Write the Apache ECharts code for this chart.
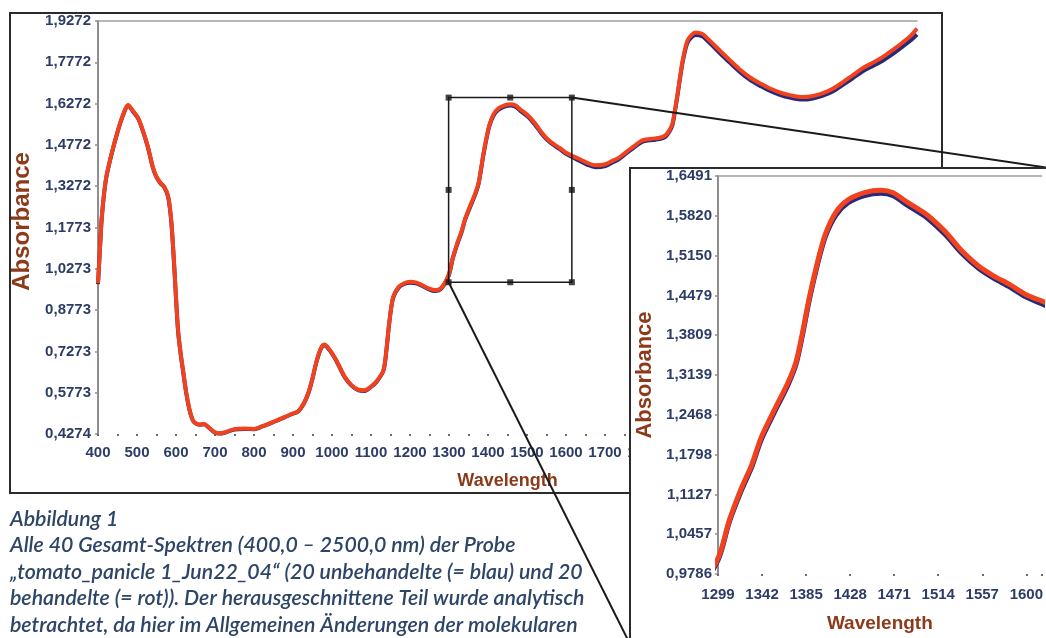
<!DOCTYPE html>
<html>
<head>
<meta charset="utf-8">
<script src="https://cdn.jsdelivr.net/npm/echarts@6/dist/echarts.min.js"></script>
<style>
  html, body { margin: 0; padding: 0; background: #ffffff; }
  #chart { width: 1046px; height: 638px; }
</style>
</head>
<body>
<div id="chart"></div>
<script>
// Wavelength grid (nm) of the mean spectra
const wavelength = [
  400, 405, 410, 420, 433, 451, 465, 477, 490, 503, 515, 528, 540, 549, 560, 570, 580, 588, 595, 605,
  612, 618, 626, 634, 641, 647, 660, 672, 685, 698, 710, 725, 750, 775, 801, 820, 837, 860, 878, 900,
  914, 928, 940, 950, 960, 972, 981, 993, 1007, 1020, 1032, 1050, 1068, 1084, 1100, 1115, 1132, 1140, 1145, 1152,
  1158, 1171, 1185, 1200, 1215, 1230, 1250, 1264, 1280, 1299, 1310, 1322, 1332, 1341, 1354, 1367, 1375, 1381, 1388, 1397,
  1404, 1414, 1426, 1442, 1458, 1470, 1483, 1502, 1521, 1537, 1553, 1568, 1584, 1600, 1616, 1634, 1655, 1675, 1701, 1720,
  1737, 1755, 1770, 1796, 1815, 1829, 1845, 1855, 1865, 1873, 1880, 1886, 1893, 1899, 1906, 1912, 1922, 1932, 1950, 1962,
  1976, 2000, 2020, 2045, 2071, 2100, 2122, 2150, 2174, 2207, 2230, 2259, 2285, 2310, 2335, 2361, 2387, 2413, 2440, 2464,
  2485, 2500
];

// Treated samples (red)
const treatedRed = [
  0.975, 1.100, 1.220, 1.350, 1.435, 1.530, 1.590, 1.622, 1.600, 1.575, 1.530, 1.470, 1.400, 1.365, 1.340, 1.325, 1.290, 1.200, 1.050, 0.810,
  0.720, 0.660, 0.580, 0.520, 0.485, 0.470, 0.462, 0.464, 0.450, 0.435, 0.430, 0.433, 0.445, 0.447, 0.446, 0.455, 0.464, 0.478, 0.489, 0.502,
  0.511, 0.540, 0.580, 0.630, 0.690, 0.740, 0.752, 0.735, 0.705, 0.670, 0.637, 0.605, 0.588, 0.586, 0.600, 0.620, 0.660, 0.740, 0.810, 0.890,
  0.930, 0.962, 0.975, 0.980, 0.978, 0.969, 0.955, 0.950, 0.958, 1.005, 1.069, 1.124, 1.163, 1.208, 1.255, 1.300, 1.335, 1.381, 1.443, 1.510,
  1.552, 1.588, 1.609, 1.621, 1.625, 1.621, 1.606, 1.585, 1.555, 1.523, 1.498, 1.481, 1.466, 1.449, 1.438, 1.426, 1.412, 1.403, 1.407, 1.420,
  1.432, 1.452, 1.468, 1.494, 1.499, 1.501, 1.505, 1.512, 1.530, 1.555, 1.610, 1.663, 1.730, 1.783, 1.830, 1.858, 1.877, 1.885, 1.880, 1.865,
  1.846, 1.812, 1.785, 1.752, 1.723, 1.699, 1.683, 1.667, 1.658, 1.651, 1.654, 1.665, 1.682, 1.705, 1.730, 1.756, 1.776, 1.797, 1.824, 1.850,
  1.875, 1.900
];

// Untreated samples (blue)
const untreatedBlue = [
  0.972, 1.098, 1.218, 1.348, 1.433, 1.528, 1.588, 1.620, 1.598, 1.573, 1.528, 1.468, 1.398, 1.363, 1.338, 1.323, 1.287, 1.196, 1.046, 0.806,
  0.717, 0.657, 0.578, 0.518, 0.484, 0.469, 0.461, 0.463, 0.449, 0.434, 0.429, 0.432, 0.444, 0.446, 0.445, 0.454, 0.463, 0.477, 0.488, 0.501,
  0.510, 0.538, 0.578, 0.628, 0.688, 0.738, 0.750, 0.733, 0.703, 0.668, 0.635, 0.603, 0.586, 0.584, 0.598, 0.618, 0.658, 0.737, 0.807, 0.887,
  0.927, 0.959, 0.972, 0.977, 0.975, 0.966, 0.952, 0.947, 0.955, 1.002, 1.066, 1.120, 1.159, 1.204, 1.251, 1.296, 1.331, 1.377, 1.439, 1.506,
  1.548, 1.583, 1.604, 1.616, 1.620, 1.616, 1.601, 1.580, 1.550, 1.519, 1.494, 1.477, 1.462, 1.445, 1.433, 1.420, 1.405, 1.396, 1.400, 1.414,
  1.427, 1.447, 1.463, 1.489, 1.494, 1.496, 1.500, 1.507, 1.525, 1.550, 1.605, 1.658, 1.724, 1.777, 1.823, 1.850, 1.868, 1.876, 1.871, 1.856,
  1.837, 1.803, 1.776, 1.743, 1.714, 1.690, 1.674, 1.658, 1.649, 1.642, 1.645, 1.656, 1.672, 1.695, 1.719, 1.745, 1.764, 1.784, 1.810, 1.835,
  1.858, 1.878
];

// Main panel axis
const mainXRange = [400, 2500];
const mainYRange = [0.4274, 1.9272];
const mainYTicks = ['0,4274', '0,5773', '0,7273', '0,8773', '1,0273', '1,1773', '1,3272', '1,4772', '1,6272', '1,7772', '1,9272'];

// Enlarged section (also the selection frame in the main panel)
const zoomXRange = [1299, 1615];
const zoomYRange = [0.9786, 1.6491];
const zoomXTicks = ['1299', '1342', '1385', '1428', '1471', '1514', '1557', '1600'];
const zoomYTicks = ['0,9786', '1,0457', '1,1127', '1,1798', '1,2468', '1,3139', '1,3809', '1,4479', '1,5150', '1,5820', '1,6491'];

// Figure caption
const captionLines = [
  'Abbildung 1',
  'Alle 40 Gesamt-Spektren (400,0 \u2013 2500,0 nm) der Probe',
  '\u201Etomato_panicle 1_Jun22_04\u201C (20 unbehandelte (= blau) und 20',
  'behandelte (= rot)). Der herausgeschnittene Teil wurde analytisch',
  'betrachtet, da hier im Allgemeinen \u00C4nderungen der molekularen'
];

const RED = '#f2421d';
const BLUE = '#262a7c';
const TICK_COLOR = '#2c3c66';
const TITLE_COLOR = '#8c3a1a';
const TICK_FONT = 'Liberation Sans';

const redPts = wavelength.map((w, i) => [w, treatedRed[i]]);
const bluePts = wavelength.map((w, i) => [w, untreatedBlue[i]]);

const zx0 = zoomXRange[0], zx1 = zoomXRange[1], zy0 = zoomYRange[0], zy1 = zoomYRange[1];
const selectionFrame = [[zx0, zy0], [zx1, zy0], [zx1, zy1], [zx0, zy1], [zx0, zy0]];
const zxm = (zx0 + zx1) / 2, zym = (zy0 + zy1) / 2;
const selectionHandles = [
  [zx0, zy0], [zxm, zy0], [zx1, zy0],
  [zx0, zym], [zx1, zym],
  [zx0, zy1], [zxm, zy1], [zx1, zy1]
];

const chart = echarts.init(document.getElementById('chart'), null, { renderer: 'canvas' });

const tickLabel = (extra) => Object.assign({
  color: TICK_COLOR, fontFamily: TICK_FONT, fontWeight: 'bold', fontSize: 15
}, extra || {});

// Inset panel frame (pixel box)
const inset = { x: 630, y: 168, w: 420, h: 476 };

const option = {
  backgroundColor: '#ffffff',
  animation: false,
  grid: [
    { left: 98, top: 21, width: 819, height: 413, containLabel: false },
    { left: 718, top: 176, width: 336, height: 401, containLabel: false }
  ],
  xAxis: [
    {
      type: 'value', gridIndex: 0, min: mainXRange[0], max: mainXRange[1], interval: 100,
      axisLine: { show: false },
      axisTick: { show: true, length: 2, lineStyle: { color: '#6b6b6b', width: 2 } },
      minorTick: { show: true, splitNumber: 2, length: 2, lineStyle: { color: '#6b6b6b', width: 2 } },
      splitLine: { show: false },
      axisLabel: tickLabel({ margin: 11, formatter: (v) => String(v) }),
      name: 'Wavelength', nameLocation: 'middle', nameGap: 38,
      nameTextStyle: { color: TITLE_COLOR, fontFamily: 'Liberation Sans', fontWeight: 'bold', fontSize: 18 }
    },
    {
      type: 'value', gridIndex: 1, min: zoomXRange[0], max: zoomXRange[1], interval: 43, z: 60,
      axisLine: { show: false },
      axisTick: { show: true, length: 2, lineStyle: { color: '#6b6b6b', width: 2 } },
      splitLine: { show: false },
      axisLabel: tickLabel({ margin: 13, formatter: (v, i) => zoomXTicks[i] || '' }),
      name: 'Wavelength', nameLocation: 'middle', nameGap: 40,
      nameTextStyle: { color: TITLE_COLOR, fontFamily: 'Liberation Sans', fontWeight: 'bold', fontSize: 19 }
    },
    {
      type: 'value', gridIndex: 0, position: 'top', min: mainXRange[0], max: mainXRange[1],
      axisLine: { show: true, lineStyle: { color: '#a0a0a0', width: 1.5 } },
      axisTick: { show: false }, axisLabel: { show: false }, splitLine: { show: false }
    },
    {
      type: 'value', gridIndex: 1, position: 'top', min: zoomXRange[0], max: zoomXRange[1], z: 60,
      axisLine: { show: true, lineStyle: { color: '#a0a0a0', width: 1.5 } },
      axisTick: { show: false }, axisLabel: { show: false }, splitLine: { show: false }
    }
  ],
  yAxis: [
    {
      type: 'value', gridIndex: 0, min: mainYRange[0], max: mainYRange[1],
      interval: (mainYRange[1] - mainYRange[0]) / 10,
      axisLine: { show: true, lineStyle: { color: '#8e8e8e', width: 2 } },
      axisTick: { show: true, length: 3, lineStyle: { color: '#8e8e8e', width: 1.5 } },
      splitLine: { show: false },
      axisLabel: tickLabel({ margin: 7, formatter: (v, i) => mainYTicks[i] || '' }),
      name: 'Absorbance', nameLocation: 'middle', nameGap: 58, nameRotate: 90,
      nameTextStyle: { color: TITLE_COLOR, fontFamily: 'Liberation Sans', fontWeight: 'bold', fontSize: 24, padding: [0, 0, 0, 12] }
    },
    {
      type: 'value', gridIndex: 1, min: zoomYRange[0], max: zoomYRange[1], z: 60,
      interval: (zoomYRange[1] - zoomYRange[0]) / 10,
      axisLine: { show: true, lineStyle: { color: '#8e8e8e', width: 2 } },
      axisTick: { show: true, length: 3, lineStyle: { color: '#8e8e8e', width: 1.5 } },
      splitLine: { show: false },
      axisLabel: tickLabel({ margin: 6, formatter: (v, i) => zoomYTicks[i] || '' }),
      name: 'Absorbance', nameLocation: 'middle', nameGap: 62, nameRotate: 90,
      nameTextStyle: { color: TITLE_COLOR, fontFamily: 'Liberation Sans', fontWeight: 'bold', fontSize: 22 }
    }
  ],
  series: [
    {
      name: 'unbehandelt', type: 'line', xAxisIndex: 0, yAxisIndex: 0, data: bluePts,
      showSymbol: false, smooth: 0.3, z: 3, silent: true,
      lineStyle: { color: BLUE, width: 4 }
    },
    {
      name: 'behandelt', type: 'line', xAxisIndex: 0, yAxisIndex: 0, data: redPts,
      showSymbol: false, smooth: 0.3, z: 4, silent: true,
      lineStyle: { color: RED, width: 4 }
    },
    {
      name: 'Ausschnitt', type: 'line', xAxisIndex: 0, yAxisIndex: 0, data: selectionFrame,
      showSymbol: false, z: 5, silent: true, clip: false,
      lineStyle: { color: '#1a1a1a', width: 1.5 }
    },
    {
      name: 'Griffe', type: 'scatter', xAxisIndex: 0, yAxisIndex: 0, data: selectionHandles,
      symbol: 'rect', symbolSize: 6, z: 6, silent: true, clip: false,
      itemStyle: { color: '#151515' }
    },
    {
      name: 'unbehandelt (Ausschnitt)', type: 'line', xAxisIndex: 1, yAxisIndex: 1, data: bluePts,
      showSymbol: false, smooth: 0.3, z: 61, silent: true, clip: true,
      lineStyle: { color: BLUE, width: 5 }
    },
    {
      name: 'behandelt (Ausschnitt)', type: 'line', xAxisIndex: 1, yAxisIndex: 1, data: redPts,
      showSymbol: false, smooth: 0.3, z: 62, silent: true, clip: true,
      lineStyle: { color: RED, width: 5 }
    }
  ]
};

chart.setOption(option);

// Frames, connector lines and caption
const topRight = chart.convertToPixel({ gridIndex: 0 }, [zx1, zy1]);
const bottomLeft = chart.convertToPixel({ gridIndex: 0 }, [zx0, zy0]);

const graphics = [
  {
    type: 'rect', z: 1, silent: true,
    shape: { x: 10, y: 13, width: 932, height: 480 },
    style: { fill: 'none', stroke: '#2b2b2b', lineWidth: 2 }
  },
  {
    type: 'rect', z: 50, silent: true,
    shape: { x: inset.x, y: inset.y, width: inset.w, height: inset.h },
    style: { fill: '#ffffff', stroke: '#2b2b2b', lineWidth: 2 }
  },
  {
    type: 'line', z: 45, silent: true,
    shape: { x1: topRight[0], y1: topRight[1], x2: inset.x + inset.w, y2: inset.y },
    style: { stroke: '#1a1a1a', lineWidth: 2 }
  },
  {
    type: 'line', z: 45, silent: true,
    shape: { x1: bottomLeft[0], y1: bottomLeft[1], x2: inset.x, y2: inset.y + inset.h },
    style: { stroke: '#1a1a1a', lineWidth: 2 }
  }
];

captionLines.forEach((line, i) => {
  graphics.push({
    type: 'text', z: 10, silent: true,
    x: 10, y: 519 + i * 26.5,
    style: {
      text: line,
      font: 'italic 600 21.3px Lato',
      fill: '#2d4567',
      verticalAlign: 'middle',
      align: 'left'
    }
  });
});

chart.setOption({ graphic: { elements: graphics } });
</script>
</body>
</html>
